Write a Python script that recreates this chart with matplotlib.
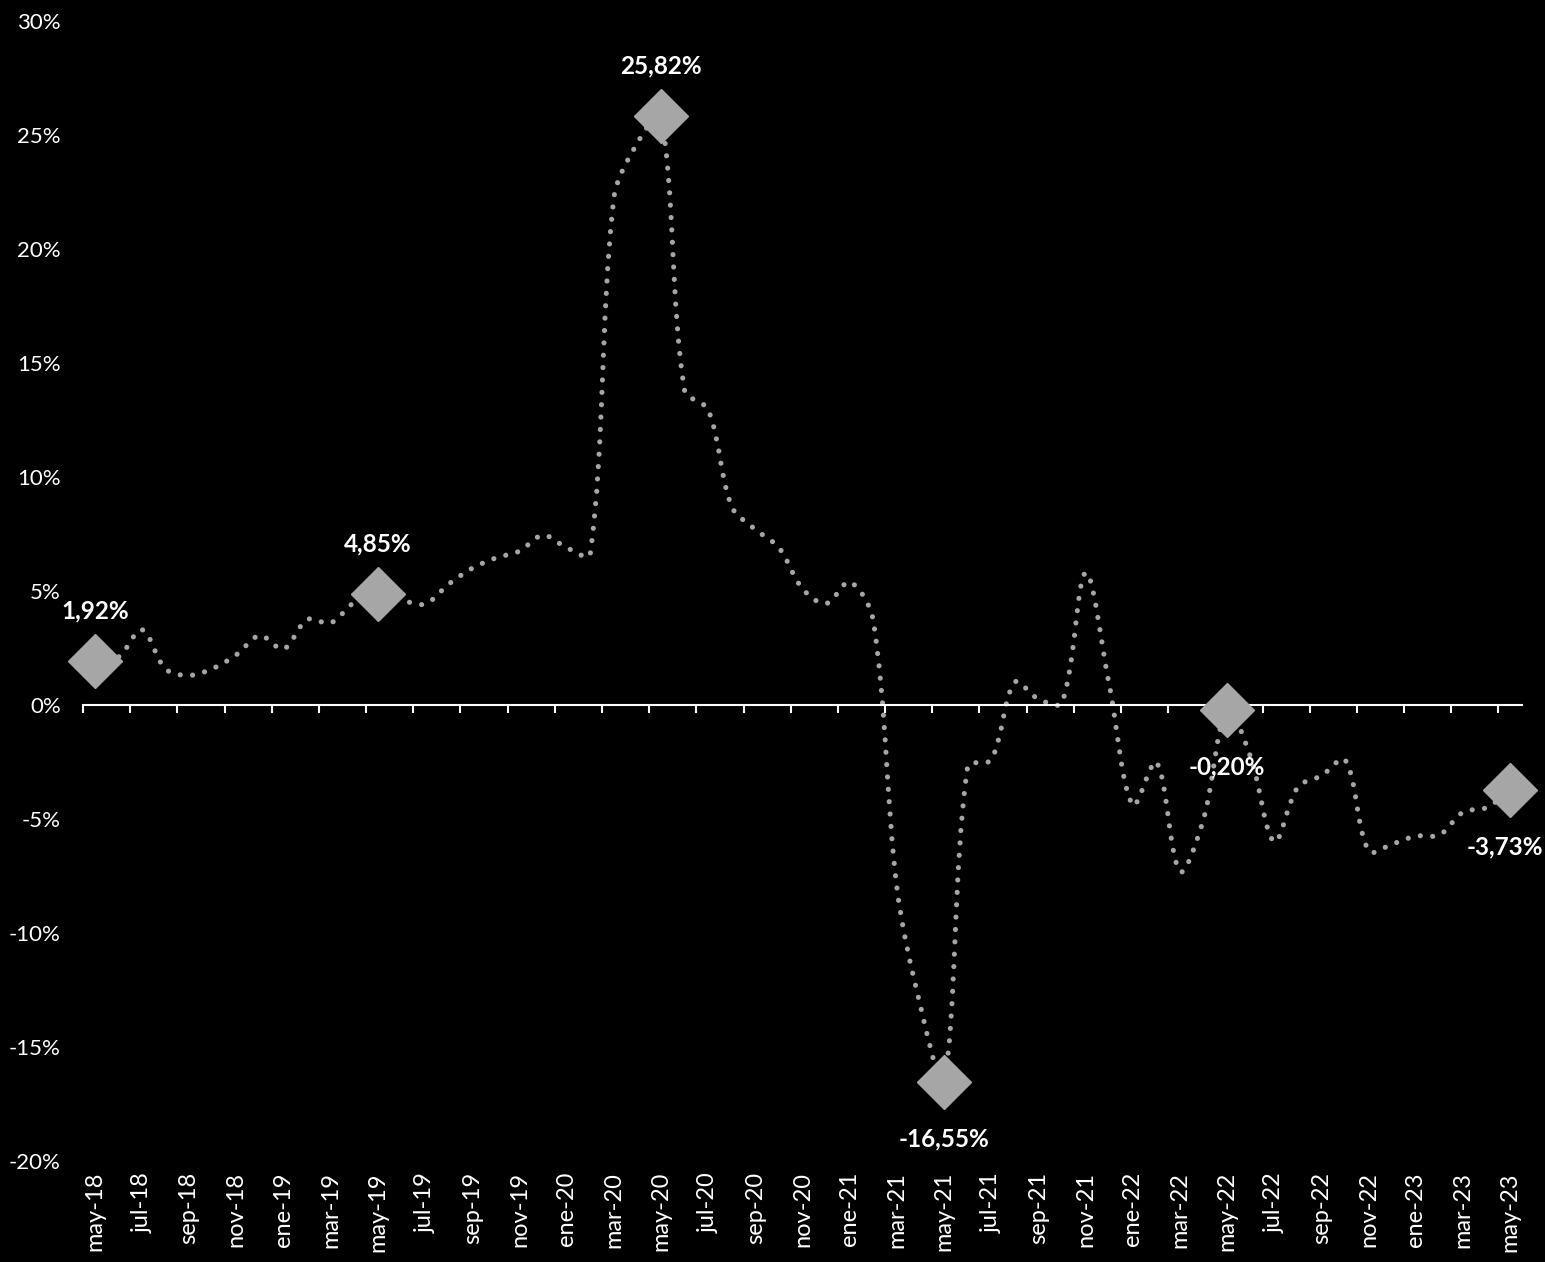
import numpy as np
from matplotlib import pyplot as plt
from matplotlib.path import Path
from matplotlib.patches import PathPatch
from matplotlib.ticker import FixedLocator

# Monthly series, may-18 .. may-23 (percent)
MONTHS = ["ene", "feb", "mar", "abr", "may", "jun", "jul", "ago", "sep", "oct", "nov", "dic"]
month_labels = [f"{MONTHS[(4 + i) % 12]}-{18 + (4 + i) // 12}" for i in range(61)]

values = [
    1.92, 2.1, 3.3, 1.58, 1.3, 1.6, 2.2, 3.05,                              # 2018
    2.45, 3.75, 3.6, 4.5, 4.85, 4.6, 4.43, 5.3, 6.0, 6.45, 6.75, 7.45,      # 2019
    6.9, 6.6, 22.2, 24.65, 25.82, 13.8, 12.95, 8.7, 7.7, 6.9, 5.1, 4.45,    # 2020
    5.4, 3.7, -8.0, -13.2, -16.55, -2.7, -2.4, 1.0, 0.26, 0.1, 5.8, 0.9,    # 2021
    -4.4, -2.5, -7.3, -5.0, -0.2, -2.3, -6.0, -3.6, -3.1, -2.4, -6.4, -6.1, # 2022
    -5.75, -5.7, -4.7, -4.5, -3.73,                                          # 2023
]

# highlighted points (every May)
highlight_idx = [0, 12, 24, 36, 48, 60]
highlight_text = ["1,92%", "4,85%", "25,82%", "-16,55%", "-0,20%", "-3,73%"]

GRAY = "#A6A6A6"
FONT = "Lato"

x = np.arange(len(values))
y = np.array(values)

fig = plt.figure(figsize=(15.45, 12.62), dpi=100, facecolor="black")
ax = fig.add_axes([83 / 1545, 1 - 1161 / 1262, (1522 - 83) / 1545, (1161 - 21) / 1262])
ax.set_facecolor("black")
ax.set_xlim(-0.5, 60.5)
ax.set_ylim(-20, 30)

# smoothed line: cubic Bezier, tangent length scaled by neighbouring segment lengths (on screen)
pts = np.column_stack([x, y])
disp = ax.transData.transform(pts)
seg = np.hypot(*np.diff(disp, axis=0).T)
n = len(pts)
verts = [pts[0]]
codes = [Path.MOVETO]
for i in range(n - 1):
    p_prev = pts[max(i - 1, 0)]
    p_next2 = pts[min(i + 2, n - 1)]
    d_prev = seg[i - 1] if i > 0 else 0.0
    d_next = seg[i + 1] if i < n - 2 else 0.0
    c1 = pts[i] + (pts[i + 1] - p_prev) / 3 * seg[i] / (d_prev + seg[i])
    c2 = pts[i + 1] - (p_next2 - pts[i]) / 3 * seg[i] / (seg[i] + d_next)
    verts += [c1, c2, pts[i + 1]]
    codes += [Path.CURVE4] * 3
line = PathPatch(Path(verts, codes), facecolor="none", edgecolor=GRAY,
                 linewidth=3.7, linestyle=(0, (0.01, 2.4)), capstyle="round", zorder=2)
ax.add_patch(line)

ax.plot(x[highlight_idx], y[highlight_idx], "D", ms=27.5, color=GRAY, zorder=4, clip_on=False)

for i, txt in zip(highlight_idx, highlight_text):
    dy = 36 if y[i] >= 1 else -41
    dx = -4 if i == 60 else 0
    ax.annotate(txt, (x[i], y[i]), xytext=(dx, dy), textcoords="offset points",
                ha="center", va="center", color="white", fontsize=17.5,
                fontweight="bold", family=FONT, zorder=5, annotation_clip=False)

# y axis
yt = list(range(-20, 31, 5))
ax.set_yticks(yt)
ax.set_yticklabels([f"{v}%" for v in yt], color="white", fontsize=16, family=FONT)
ax.tick_params(axis="y", length=0, pad=16)

# zero line with tick marks between month pairs
for s in ["top", "right", "left"]:
    ax.spines[s].set_visible(False)
ax.spines["bottom"].set_position(("data", 0))
ax.spines["bottom"].set_color("white")
ax.spines["bottom"].set_linewidth(1.5)
ax.set_xticks([])
ax.xaxis.set_minor_locator(FixedLocator(np.arange(-0.5, 60, 2)))
ax.tick_params(axis="x", which="minor", length=6, width=1.5, color="white", direction="out")

# month labels at the bottom of the plot
sec = ax.secondary_xaxis("bottom")
sec.set_xticks(x[::2], labels=month_labels[::2])
sec.spines["bottom"].set_visible(False)
sec.tick_params(axis="x", length=0, pad=8, labelsize=17, labelcolor="white", labelrotation=90)
for lbl in sec.get_xticklabels():
    lbl.set_family(FONT)

fig.savefig("out.png", dpi=100, facecolor="black")
